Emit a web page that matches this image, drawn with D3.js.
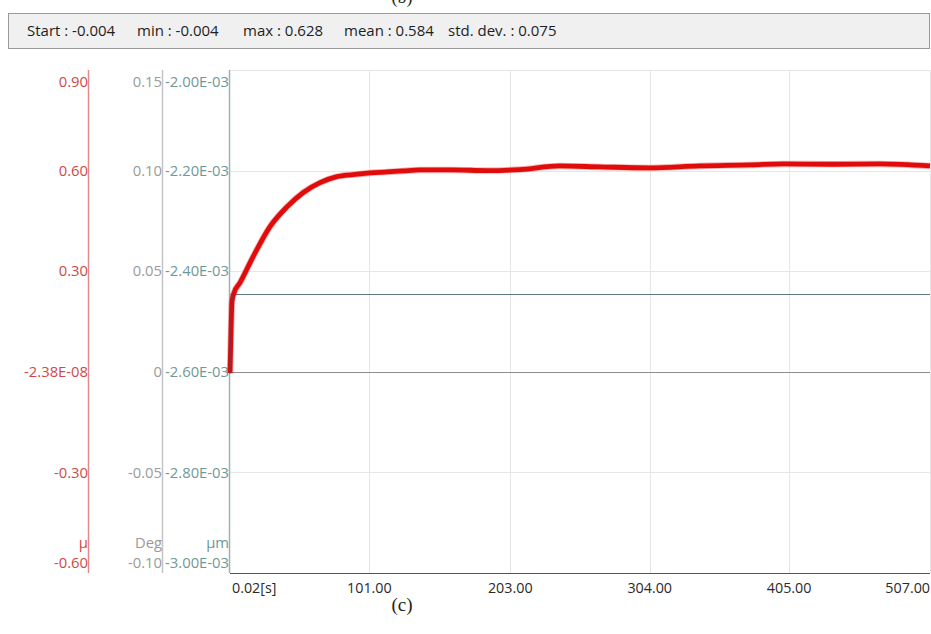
<!DOCTYPE html>
<html>
<head>
<meta charset="utf-8">
<script src="https://cdn.jsdelivr.net/npm/d3@7/dist/d3.min.js"></script>
<style>
  html, body { margin: 0; padding: 0; background: #ffffff; overflow: hidden; }
  svg { display: block; }
  text { font-family: "Open Sans", "Noto Sans", sans-serif; }
</style>
</head>
<body>
<svg id="chart" width="931" height="634"></svg>
<script>
// Friction coefficient trace (μ) over time [s]
const timeValues = [0.02, 0.74, 1.47, 2.9, 7.3, 16.7, 29, 41.3, 52.9, 65.2, 77.5, 89.1,
  101.4, 113.7, 125.3, 137.6, 161.5, 186.2, 210, 239, 268, 304, 340, 377, 401, 437, 471, 507];
const frictionValues = [-0.004, 0.12, 0.21, 0.235, 0.266, 0.343, 0.433, 0.492, 0.534, 0.564, 0.582, 0.588,
  0.593, 0.596, 0.599, 0.602, 0.602, 0.600, 0.603, 0.614, 0.611, 0.608, 0.614, 0.617, 0.620, 0.619, 0.620, 0.614];

// Angle channel (Deg) and displacement channel (μm), both flat over the run
const channelTimes = [0.02, 507];
const degValues = [0, 0];
const umValues = [-2.446e-3, -2.446e-3];

// Axis ticks and labels
const xTicks = [0.02, 101, 203, 304, 405, 507];
const xTickLabels = ["0.02[s]", "101.00", "203.00", "304.00", "405.00", "507.00"];
const muTicks = [0.9, 0.6, 0.3, 0, -0.3, -0.6];
const muTickLabels = ["0.90", "0.60", "0.30", "-2.38E-08", "-0.30", "-0.60"];
const degTicks = [0.15, 0.10, 0.05, 0, -0.05, -0.10];
const degTickLabels = ["0.15", "0.10", "0.05", "0", "-0.05", "-0.10"];
const umTicks = [-2.0e-3, -2.2e-3, -2.4e-3, -2.6e-3, -2.8e-3, -3.0e-3];
const umTickLabels = ["-2.00E-03", "-2.20E-03", "-2.40E-03", "-2.60E-03", "-2.80E-03", "-3.00E-03"];

// Summary statistics
const statLabels = ["Start : -0.004", "min : -0.004", "max : 0.628", "mean : 0.584", "std. dev. : 0.075"];

const svg = d3.select("#chart");
const plot = { left: 230, right: 930, top: 70, bottom: 573 };

const x = d3.scaleLinear().domain([0.02, 507]).range([plot.left, plot.right]);
const yMu = d3.scaleLinear().domain([-0.6, 0.9]).range([plot.bottom, plot.top]);
const yDeg = d3.scaleLinear().domain([-0.10, 0.15]).range([plot.bottom, plot.top]);
const yUm = d3.scaleLinear().domain([-3.0e-3, -2.0e-3]).range([plot.bottom, plot.top]);

// Caption of the previous panel, cut by the top edge
svg.append("text").attr("x", 402).attr("y", 3).attr("text-anchor", "middle")
  .style("font-family", "'Liberation Serif', 'Times New Roman', serif").style("font-size", "18px")
  .attr("fill", "#222").text("(b)");

// Statistics bar
svg.append("rect").attr("x", 8.5).attr("y", 13.5).attr("width", 921).attr("height", 35)
  .attr("fill", "#f0f0f0").attr("stroke", "#9a9a9a");
const statX = [27, 137, 243, 344, 448];
svg.selectAll("text.stat").data(statLabels).join("text")
  .attr("class", "stat")
  .attr("x", (d, i) => statX[i]).attr("y", 31).attr("dy", "0.35em")
  .attr("fill", "#1e1e1e").style("font-size", "15px").text(d => d);

// Grid
const grid = svg.append("g");
grid.selectAll("line.vg").data(xTicks.slice(1)).join("line")
  .attr("x1", d => Math.round(x(d)) + 0.5).attr("x2", d => Math.round(x(d)) + 0.5)
  .attr("y1", plot.top).attr("y2", plot.bottom)
  .attr("stroke", "#e6e6e6");
grid.selectAll("line.hg").data(degTicks.filter(d => d !== 0)).join("line")
  .attr("x1", plot.left).attr("x2", plot.right)
  .attr("y1", d => Math.round(yDeg(d)) + 0.5).attr("y2", d => Math.round(yDeg(d)) + 0.5)
  .attr("stroke", "#e6e6e6");

// Flat channels
const chLine = (yS, vals) => d3.line().x((d, i) => x(channelTimes[i])).y((d) => Math.round(yS(d)) + 0.5)(vals);
svg.append("path").attr("d", chLine(yDeg, degValues)).attr("fill", "none").attr("stroke", "#8c8c8c").attr("stroke-width", 1);
svg.append("path").attr("d", chLine(yUm, umValues)).attr("fill", "none").attr("stroke", "#5f7c7c").attr("stroke-width", 1);

// Left axes
function vAxis(xPos, scale, ticks, labels, labelColor, lineColor, unit) {
  const g = svg.append("g").attr("transform", `translate(${xPos},0)`);
  g.append("line").attr("x1", 0.5).attr("x2", 0.5).attr("y1", plot.top).attr("y2", plot.bottom)
    .attr("stroke", lineColor).attr("stroke-width", 1.5);
  g.selectAll("text.tl").data(ticks).join("text")
    .attr("class", "tl")
    .attr("x", 0)
    .attr("y", (d, i) => {
      let yy = scale(d);
      if (i === 0) yy += 12;
      if (i === ticks.length - 1) yy -= 10;
      return yy;
    })
    .attr("dy", "0.35em").attr("text-anchor", "end")
    .attr("fill", labelColor).style("font-size", "14.8px")
    .text((d, i) => labels[i]);
  g.append("text").attr("x", 0).attr("y", 543).attr("dy", "0.35em").attr("text-anchor", "end")
    .attr("fill", labelColor).style("font-size", "14.8px").text(unit);
}
vAxis(88, yMu, muTicks, muTickLabels, "#d24848", "#e38a8a", "μ");
vAxis(162, yDeg, degTicks, degTickLabels, "#9a9a9a", "#c4c4c4", "Deg");
vAxis(229, yUm, umTicks, umTickLabels, "#6f9898", "#9cb2b2", "μm");

// Bottom axis
svg.append("line").attr("x1", plot.left).attr("x2", plot.right)
  .attr("y1", plot.bottom + 0.5).attr("y2", plot.bottom + 0.5).attr("stroke", "#555").attr("stroke-width", 1.2);
svg.selectAll("text.xl").data(xTicks).join("text")
  .attr("class", "xl")
  .attr("x", (d, i) => i === 0 ? x(d) + 2 : x(d))
  .attr("y", 588).attr("dy", "0.35em")
  .attr("text-anchor", (d, i) => i === 0 ? "start" : (i === xTicks.length - 1 ? "end" : "middle"))
  .attr("fill", "#2a2a2a").style("font-size", "14.3px")
  .text((d, i) => xTickLabels[i]);

// Friction trace
const muLine = d3.line().x((d, i) => x(timeValues[i])).y(d => yMu(d)).curve(d3.curveMonotoneX);
svg.append("path").attr("d", muLine(frictionValues))
  .attr("fill", "none").attr("stroke", "#f04040").attr("stroke-opacity", 0.4).attr("stroke-width", 6.5)
  .attr("stroke-linejoin", "round");
svg.append("path").attr("d", muLine(frictionValues))
  .attr("fill", "none").attr("stroke", "#e00c0c").attr("stroke-width", 4.8)
  .attr("stroke-linejoin", "round");
// thin start segment over the axis
svg.append("path").attr("d", muLine(frictionValues.slice(0, 4)))
  .attr("fill", "none").attr("stroke", "#8a2a3a").attr("stroke-width", 1.5);

// Panel caption
svg.append("text").attr("x", 402).attr("y", 611).attr("text-anchor", "middle")
  .style("font-family", "'Liberation Serif', 'Times New Roman', serif").style("font-size", "19px")
  .attr("fill", "#222").text("(c)");
</script>
</body>
</html>
